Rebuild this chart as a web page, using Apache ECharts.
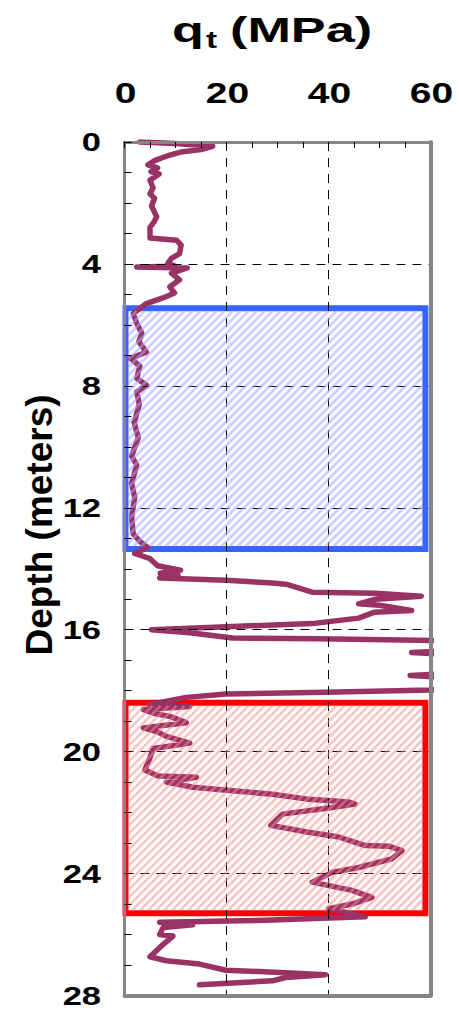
<!DOCTYPE html>
<html>
<head>
<meta charset="utf-8">
<script src="https://cdn.jsdelivr.net/npm/echarts@6.0.0/dist/echarts.min.js"></script>
<style>
  html, body { margin: 0; padding: 0; background: #ffffff; }
  #chart { width: 459px; height: 1010px; }
</style>
</head>
<body>
<div id="chart"></div>
<script>
// CPT cone resistance profile: depth (m) and corrected tip resistance qt (MPa)
const depthM = [
  0.00, 0.05, 0.14, 0.25, 0.33, 0.45, 0.60, 0.75, 0.85, 0.97,
  1.05, 1.25, 1.50, 1.70, 1.85, 2.10, 2.45, 2.62, 2.80, 3.15,
  3.22, 3.38, 3.66, 3.82, 3.98, 4.08, 4.10, 4.13, 4.30, 4.52,
  4.75, 4.95, 5.08, 5.30, 5.63, 5.95, 6.28, 6.55, 6.89, 7.10,
  7.35, 7.75, 7.98, 8.20, 8.60, 9.20, 9.70, 10.30, 10.60, 11.20,
  11.65, 12.30, 12.85, 13.10, 13.30, 13.50, 13.67, 13.90, 14.05, 14.15,
  14.22, 14.30, 14.38, 14.47, 14.52, 14.60, 14.77, 14.80, 14.90, 15.00,
  15.15, 15.20, 15.37, 15.43, 15.62, 15.80, 15.90, 16.00, 16.10, 16.27,
  16.30, 16.36, 16.50, 16.70, 16.75, 16.80, 17.10, 17.45, 17.50, 17.55,
  17.80, 17.98, 18.05, 18.11, 18.22, 18.45, 18.52, 18.62, 18.75, 18.85,
  19.05, 19.22, 19.35, 19.50, 19.72, 19.90, 20.20, 20.60, 20.80, 20.84,
  21.00, 21.17, 21.28, 21.40, 21.55, 21.65, 21.72, 21.83, 22.05, 22.42,
  22.63, 22.80, 23.08, 23.10, 23.25, 23.52, 23.80, 23.96, 24.28, 24.55,
  24.78, 25.00, 25.15, 25.42, 25.53, 25.60, 25.68, 25.77, 26.00, 26.05,
  26.32, 26.73, 26.86, 26.97, 27.17, 27.25, 27.32, 27.41, 27.52, 27.65
];
const qtMPa = [
  3.0, 10.0, 17.3, 15.0, 11.0, 8.5, 6.0, 4.6, 6.5, 5.2,
  6.8, 5.0, 5.6, 5.0, 5.9, 5.3, 6.3, 5.8, 5.0, 5.0,
  10.2, 11.1, 10.8, 9.2, 8.5, 10.0, 2.4, 12.3, 9.2, 10.8,
  8.9, 9.8, 8.1, 4.3, 1.7, 2.4, 3.4, 2.8, 4.3, 1.2,
  3.0, 2.4, 4.3, 2.4, 2.9, 1.9, 2.7, 1.4, 2.4, 1.4,
  2.0, 1.4, 1.7, 3.0, 4.5, 2.0, 5.0, 6.5, 11.0, 7.0,
  10.5, 6.9, 19.9, 29.0, 32.0, 33.6, 36.8, 49.2, 58.2, 49.2,
  45.9, 50.0, 56.3, 48.9, 45.9, 36.8, 19.9, 5.3, 12.8, 21.2,
  38.0, 62.0, 70.0, 62.0, 56.3, 62.0, 70.0, 62.0, 56.0, 62.0,
  70.0, 60.0, 39.4, 19.9, 12.1, 5.0, 12.8, 3.7, 6.0, 9.0,
  12.1, 3.7, 6.5, 8.2, 12.8, 5.6, 5.0, 4.0, 6.6, 14.1,
  8.2, 13.4, 21.2, 29.0, 35.5, 43.9, 45.2, 40.7, 31.0, 28.7,
  35.5, 42.0, 47.2, 51.8, 54.4, 52.4, 45.9, 40.7, 36.8, 44.6,
  48.5, 44.6, 40.1, 47.2, 27.7, 6.9, 13.4, 7.6, 6.9, 9.5,
  7.6, 5.0, 8.2, 14.7, 19.9, 31.6, 39.4, 31.6, 29.0, 14.7
];

// Axis tick labels
const qtTicks = [0, 20, 40, 60];
const depthTicks = [0, 4, 8, 12, 16, 20, 24, 28];

// Highlighted depth zones: [qt from, depth top, qt to, depth bottom]
const zoneBlue = [0.2, 5.45, 59.0, 13.35];
const zoneRed = [0.2, 18.4, 59.0, 25.3];

const titleMain = 'q';
const titleSub = 't';
const titleUnit = '(MPa)';
const depthName = 'Depth (meters)';

const profile = depthM.map((d, i) => [qtMPa[i], d]);
const zones = [zoneBlue, zoneRed];
const zoneStroke = ['#3366ff', '#ff0000'];
const zoneStripe = ['rgba(165,165,255,0.55)', 'rgba(255,140,140,0.5)'];

const chart = echarts.init(document.getElementById('chart'), null, { renderer: 'svg' });

const frameColor = '#858585';
const dashStyle = { color: '#000000', width: 1, type: [9, 7] };

function zoneRect(api) {
  const p0 = api.coord([api.value(0), api.value(1)]);
  const p1 = api.coord([api.value(2), api.value(3)]);
  return {
    L: Math.min(p0[0], p1[0]), R: Math.max(p0[0], p1[0]),
    T: Math.min(p0[1], p1[1]), B: Math.max(p0[1], p1[1])
  };
}

const option = {
  animation: false,
  backgroundColor: '#ffffff',
  grid: { left: 124.5, right: 28.5, top: 142, bottom: 14.5, containLabel: false },
  xAxis: [
    {
      type: 'value', position: 'top', min: 0, max: 60, interval: 20, z: 3,
      axisLine: { show: true, onZero: false, lineStyle: { color: frameColor, width: 3 } },
      axisTick: { show: true, inside: true, length: 6, lineStyle: { color: '#000', width: 1 } },
      minorTick: { show: true, splitNumber: 4, length: 6, lineStyle: { color: '#000', width: 1 } },
      axisLabel: { show: false },
      splitLine: { show: true, showMinLine: false, showMaxLine: false, lineStyle: dashStyle }
    },
    {
      type: 'value', position: 'bottom', min: 0, max: 60, z: 4,
      axisLine: { show: true, onZero: false, lineStyle: { color: frameColor, width: 4 } },
      axisTick: { show: false }, axisLabel: { show: false }, splitLine: { show: false }
    }
  ],
  yAxis: [
    {
      type: 'value', inverse: true, position: 'left', min: 0, max: 28, interval: 4, z: 3,
      axisLine: { show: true, onZero: false, lineStyle: { color: frameColor, width: 3 } },
      axisTick: { show: true, inside: true, length: 7, lineStyle: { color: '#000', width: 1 } },
      minorTick: { show: true, splitNumber: 4, length: 7, lineStyle: { color: '#000', width: 1 } },
      axisLabel: { show: false },
      splitLine: { show: true, showMinLine: false, showMaxLine: false, lineStyle: dashStyle }
    },
    {
      type: 'value', inverse: true, position: 'right', min: 0, max: 28, z: 4,
      axisLine: { show: true, onZero: false, lineStyle: { color: frameColor, width: 4 } },
      axisTick: { show: false }, axisLabel: { show: false }, splitLine: { show: false }
    }
  ],
  series: [
    {
      // zone outlines, beneath the profile
      type: 'custom', xAxisIndex: 0, yAxisIndex: 0, z: 1, clip: false,
      encode: { x: [0, 2], y: [1, 3] },
      data: zones,
      renderItem: function (params, api) {
        const r = zoneRect(api);
        return {
          type: 'rect',
          shape: { x: r.L, y: r.T, width: r.R - r.L, height: r.B - r.T },
          style: { fill: 'none', stroke: zoneStroke[params.dataIndex], lineWidth: 6 }
        };
      }
    },
    {
      type: 'line', xAxisIndex: 0, yAxisIndex: 0, z: 2,
      data: profile, showSymbol: false, clip: true,
      lineStyle: { color: '#993366', width: 5.5, join: 'round', cap: 'round' },
      itemStyle: { color: '#993366' }
    },
    {
      // diagonal hatching over each zone
      type: 'custom', xAxisIndex: 0, yAxisIndex: 0, z: 3, clip: false,
      encode: { x: [0, 2], y: [1, 3] },
      data: zones,
      renderItem: function (params, api) {
        const r = zoneRect(api);
        const L = r.L + 3, R = r.R - 3, T = r.T + 3, B = r.B - 3;
        const children = [];
        for (let c = L + T; c <= R + B; c += 8) {
          const x0 = Math.max(L, c - B);
          const x1 = Math.min(R, c - T);
          if (x1 > x0) {
            children.push({
              type: 'line',
              shape: { x1: x0, y1: c - x0, x2: x1, y2: c - x1 },
              style: { stroke: zoneStripe[params.dataIndex], lineWidth: 2.8 }
            });
          }
        }
        return { type: 'group', children: children };
      }
    }
  ]
};

chart.setOption(option);

// Stretched bold lettering for titles and tick labels
const fontFamily = '"Liberation Sans", Arial, sans-serif';
function label(text, x, y, size, align, scaleX, rotation) {
  return {
    type: 'text', x: x, y: y, scaleX: scaleX || 1, rotation: rotation || 0, z: 10,
    style: {
      text: text, font: 'bold ' + size + 'px ' + fontFamily, fill: '#000000',
      align: align, verticalAlign: 'middle', textAlign: align, textVerticalAlign: 'middle'
    }
  };
}

const graphics = [];
qtTicks.forEach(v => {
  const px = chart.convertToPixel({ xAxisIndex: 0 }, v);
  graphics.push(label(String(v), px + 1, 92.5, 30, 'center', 1.3));
});
depthTicks.forEach(v => {
  const py = chart.convertToPixel({ yAxisIndex: 0 }, v);
  graphics.push(label(String(v), 101, py + 0.5, 25, 'right', 1.38));
});
graphics.push(label(titleMain, 172, 30, 36, 'left', 1.45));
graphics.push(label(titleSub, 206, 40, 23, 'left', 1.45));
graphics.push(label(titleUnit, 230, 30, 36, 'left', 1.45));
graphics.push(label(depthName, 39, 525, 37, 'center', 1, Math.PI / 2));

chart.setOption({ graphic: graphics });
</script>
</body>
</html>
